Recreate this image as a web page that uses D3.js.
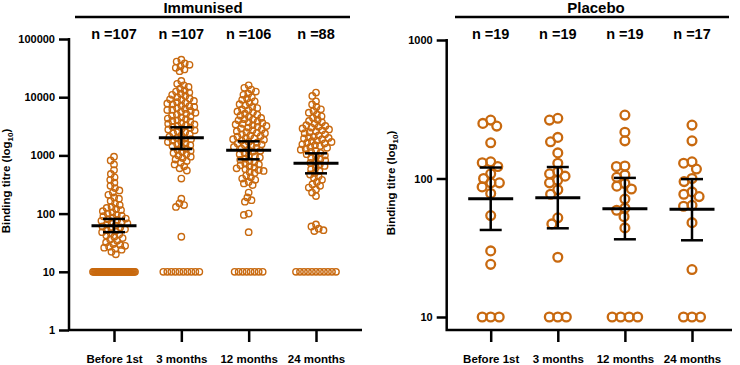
<!DOCTYPE html>
<html>
<head>
<meta charset="utf-8">
<script src="https://cdn.jsdelivr.net/npm/d3@7"></script>
<style>
  body { margin: 0; background: #fff; }
  text { font-family: "Liberation Sans", Arial, sans-serif; font-weight: bold; }
</style>
</head>
<body>
<div id="wrapper"></div>
<script>
/* global d3 */

// categories (time points)
const categories = ["Before 1st", "3 months", "12 months", "24 months"]

// immunised group: binding titres per time point
const immBefore = [950, 820, 700, 560, 480, 420, 380, 340, 300, 275, 250,
  230, 210, 190, 180, 165, 150, 140, 130, 125, 120, 115, 110,
  105, 100, 95, 92, 90, 85, 82, 80, 78, 75, 72, 70, 68, 65, 62, 60, 58, 56,
  54, 52, 50, 48, 46, 44, 42, 40, 38, 36, 34, 32, 30, 29, 28, 27, 26, 25, 24, 22, 20,
  10, 10, 10, 10, 10, 10, 10, 10, 10, 10, 10, 10, 10, 10, 10, 10, 10, 10, 10, 10, 10, 10, 10, 10, 10,
  10, 10, 10, 10, 10, 10, 10, 10, 10, 10, 10, 10, 10, 10, 10, 10, 10, 10, 10, 10]
const imm3m = [44000, 41000, 38000, 36000, 34000, 32000, 30000, 28000,
  19000, 17000, 16000, 15000, 14000, 13000, 12500, 12000, 11500, 11000, 10500, 10000, 9500, 9200, 9000, 8600,
  8200, 8000, 7800, 7500, 7200, 7000, 6800, 6500, 6300, 6100, 6000, 5800, 5600, 5400, 5200, 5000,
  4800, 4700, 4500, 4300, 4200, 4000, 3900, 3800, 3600, 3500, 3400, 3300, 3200, 3100, 3000, 2900,
  2800, 2700, 2600, 2500, 2400, 2300, 2200, 2100, 2000, 1950, 1900, 1800, 1750, 1700, 1600, 1550,
  1500, 1450, 1400, 1300, 1250, 1200, 1150, 1100, 1050, 1000, 950, 900, 850, 800, 750, 700, 650, 600, 550,
  400, 180, 150, 140, 130, 40,
  10, 10, 10, 10, 10, 10, 10, 10, 10, 10]
const imm12m = [16000, 14500, 13500, 12500, 11500, 11000, 10000, 9500, 9000, 8500, 8000, 7600, 7200, 6800,
  6500, 6200, 6000, 5700, 5500, 5200, 5000, 4800, 4600, 4400, 4200, 4100, 4000, 3800, 3700, 3600,
  3500, 3400, 3300, 3200, 3100, 3000, 2900, 2800, 2700, 2600, 2500, 2450, 2400, 2300, 2200, 2150,
  2100, 2000, 1950, 1900, 1850, 1800, 1700, 1650, 1600, 1550, 1500, 1450, 1400, 1350, 1300, 1250,
  1200, 1150, 1100, 1050, 1000, 960, 920, 880, 840, 800, 760, 720, 700, 680, 650, 620, 600, 580,
  560, 540, 520, 500,
  450, 420, 400, 380, 350, 330, 310, 230, 190, 170, 160, 100, 95, 48,
  10, 10, 10, 10, 10, 10, 10, 10]
const imm24m = [12000, 10500, 8500, 7500, 6800, 6200, 5800, 5400, 5000, 4700, 4400, 4100, 3900, 3700, 3500,
  3300, 3200, 3100, 3000, 2900, 2800, 2700, 2600, 2500, 2400, 2300, 2200, 2100, 2050, 2000, 1950,
  1900, 1800, 1750, 1700, 1650, 1600, 1550, 1500, 1450, 1400, 1350, 1300, 1250, 1200, 1150, 1100,
  1050, 1000, 950, 900, 860, 820, 780, 740, 700, 660, 620, 580, 540, 500, 470, 440, 410, 380, 350,
  320, 300, 280, 260, 230, 200,
  65, 60, 55, 52, 50,
  10, 10, 10, 10, 10, 10, 10, 10, 10, 10, 10]

// immunised: geometric mean titre with 95% CI
const immGmt = [62, 2015, 1224, 731]
const immLow = [48, 1288, 857, 492]
const immHigh = [81, 3040, 1746, 1086]

// placebo group
const plaBefore = [264, 250, 239, 181, 132, 130, 122, 108, 100, 93, 93, 87, 78, 54, 30, 24, 10, 10, 10]
const pla3m = [272, 264, 198, 184, 153, 129, 112, 108, 104, 97, 93, 83, 77, 52, 47, 27, 10, 10, 10]
const pla12m = [287, 216, 187, 123, 122, 106, 102, 92, 88, 84, 71, 61, 59, 53, 44, 10, 10, 10, 10]
const pla24m = [243, 187, 132, 129, 117, 100, 95, 80, 77, 74, 64, 63, 48, 22, 10, 10, 10]

const plaGmt = [71.5, 72.7, 60.5, 60]
const plaLow = [42.5, 43.7, 36.4, 35.8]
const plaHigh = [120, 121, 101, 99]

// tick labels
const immTicks = [1, 10, 100, 1000, 10000, 100000]
const plaTicks = [10, 100, 1000]

const dimensions = { width: 740, height: 365 }
const dotColor = "#c8690f"

const wrapper = d3.select("#wrapper")
  .append("svg")
    .attr("width", dimensions.width)
    .attr("height", dimensions.height)

// simple beeswarm: rows of identical values get spread evenly,
// the rest is placed greedily as close to the centre as possible
function beeswarm(values, yScale, d, cap, rowStep) {
  const counts = d3.rollup(values, v => v.length, v => v)
  const placed = []
  counts.forEach((n, v) => {
    if (n < 3) return
    const step = Math.min(rowStep, (2 * cap) / (n - 1))
    for (let i = 0; i < n; i++) {
      placed.push({ v, y: yScale(v), x: (i - (n - 1) / 2) * step })
    }
  })
  const rest = values.filter(v => counts.get(v) < 3).sort((a, b) => b - a)
  rest.forEach(v => {
    const y = yScale(v)
    let dd = d
    let x = null
    while (x === null) {
      const near = placed.filter(p => Math.abs(p.y - y) < dd)
      const cands = [0]
      near.forEach(p => {
        const off = Math.sqrt(dd * dd - (p.y - y) ** 2)
        cands.push(p.x - off, p.x + off)
      })
      const ok = cands
        .filter(c => near.every(p => (p.x - c) ** 2 + (p.y - y) ** 2 >= dd * dd - 0.01))
        .sort((a, b) => Math.abs(a) - Math.abs(b))
      if (ok.length && Math.abs(ok[0]) <= cap) x = ok[0]
      else dd *= 0.9
    }
    placed.push({ v, y, x })
  })
  return placed
}

function drawPanel(cfg) {
  const bounds = wrapper.append("g")

  const xScale = d3.scalePoint()
    .domain(categories)
    .range(cfg.xRange)

  const yScale = d3.scaleLog()
    .domain(cfg.yDomain)
    .range(cfg.yRange)

  // y axis
  const yAxis = bounds.append("g")
    .attr("transform", `translate(${cfg.axisX},0)`)
    .call(d3.axisLeft(yScale)
      .tickValues(cfg.ticks)
      .tickFormat(d3.format("d"))
      .tickSize(10)
      .tickPadding(4))
  yAxis.select(".domain").remove()
  yAxis.selectAll("line").attr("stroke", "#000").attr("stroke-width", 2.5)
  yAxis.selectAll("text")
    .attr("fill", "#000")
    .style("font-size", "11px")

  // x axis
  const xAxis = bounds.append("g")
    .attr("transform", `translate(0,${cfg.baseY})`)
    .call(d3.axisBottom(xScale)
      .tickSize(12)
      .tickPadding(13))
  xAxis.select(".domain").remove()
  xAxis.selectAll("line").attr("stroke", "#000").attr("stroke-width", 2.5)
  xAxis.selectAll("text")
    .attr("fill", "#000")
    .style("font-size", "11.5px")

  // axis lines
  bounds.append("path")
    .attr("d", `M${cfg.axisX},${yScale(cfg.ticks[cfg.ticks.length - 1]) - 1}V${cfg.baseY}H${cfg.xEnd}`)
    .attr("fill", "none")
    .attr("stroke", "#000")
    .attr("stroke-width", 2.5)

  // y label
  const yLabel = bounds.append("text")
    .attr("transform", `translate(${cfg.labelX},${cfg.labelY}) rotate(-90)`)
    .attr("text-anchor", "middle")
    .attr("fill", "#000")
    .style("font-size", "11.5px")
  yLabel.append("tspan").text("Binding titre (log")
  yLabel.append("tspan").attr("dy", 3).style("font-size", "8px").text("10")
  yLabel.append("tspan").attr("dy", -3).text(")")

  // title + underline
  bounds.append("text")
    .attr("x", cfg.titleX)
    .attr("y", 12.5)
    .attr("text-anchor", "middle")
    .attr("fill", "#000")
    .style("font-size", "15px")
    .text(cfg.title)
  bounds.append("line")
    .attr("x1", cfg.lineX[0])
    .attr("x2", cfg.lineX[1])
    .attr("y1", 17)
    .attr("y2", 17)
    .attr("stroke", "#000")
    .attr("stroke-width", 2.5)

  // dots
  cfg.groups.forEach((values, i) => {
    const cx = xScale(categories[i])
    const pts = beeswarm(values, yScale, cfg.spacing, cfg.cap, cfg.rowStep)
    bounds.append("g")
      .selectAll("circle")
      .data(pts)
      .join("circle")
        .attr("cx", d => cx + d.x)
        .attr("cy", d => d.y)
        .attr("r", cfg.r)
        .attr("fill", "none")
        .attr("stroke", dotColor)
        .attr("stroke-width", cfg.sw)

    // n label
    bounds.append("text")
      .attr("x", cx)
      .attr("y", 38.5)
      .attr("text-anchor", "middle")
      .attr("fill", "#000")
      .style("font-size", "14.5px")
      .text(`n =${values.length}`)
  })

  // geometric mean + 95% CI
  const bars = bounds.append("g")
    .attr("stroke", "#000")
    .attr("fill", "none")
  categories.forEach((c, i) => {
    const cx = xScale(c)
    const g = bars.append("g")
    g.append("line")
      .attr("x1", cx).attr("x2", cx)
      .attr("y1", yScale(cfg.high[i])).attr("y2", yScale(cfg.low[i]))
      .attr("stroke-width", 2.5)
    ;[cfg.high[i], cfg.low[i]].forEach(v => {
      g.append("line")
        .attr("x1", cx - 11).attr("x2", cx + 11)
        .attr("y1", yScale(v)).attr("y2", yScale(v))
        .attr("stroke-width", 2.5)
    })
    g.append("line")
      .attr("x1", cx - 22.5).attr("x2", cx + 22.5)
      .attr("y1", yScale(cfg.gmt[i])).attr("y2", yScale(cfg.gmt[i]))
      .attr("stroke-width", 3)
  })
}

drawPanel({
  title: "Immunised",
  titleX: 203,
  lineX: [75, 350],
  groups: [immBefore, imm3m, imm12m, imm24m],
  gmt: immGmt, low: immLow, high: immHigh,
  ticks: immTicks,
  xRange: [114, 316],
  yDomain: [1, 100000],
  yRange: [330, 39],
  axisX: 69,
  xEnd: 362,
  baseY: 330,
  labelX: 10,
  labelY: 181,
  r: 3.2,
  sw: 1.4,
  spacing: 5,
  cap: 21,
  rowStep: 4,
})

drawPanel({
  title: "Placebo",
  titleX: 596,
  lineX: [455, 729],
  groups: [plaBefore, pla3m, pla12m, pla24m],
  gmt: plaGmt, low: plaLow, high: plaHigh,
  ticks: plaTicks,
  xRange: [490.7, 692],
  yDomain: [10, 1000],
  yRange: [317, 40],
  axisX: 446.7,
  xEnd: 732,
  baseY: 330,
  labelX: 395,
  labelY: 183,
  r: 4.4,
  sw: 2.3,
  spacing: 8.5,
  cap: 22,
  rowStep: 8.5,
})
</script>
</body>
</html>
